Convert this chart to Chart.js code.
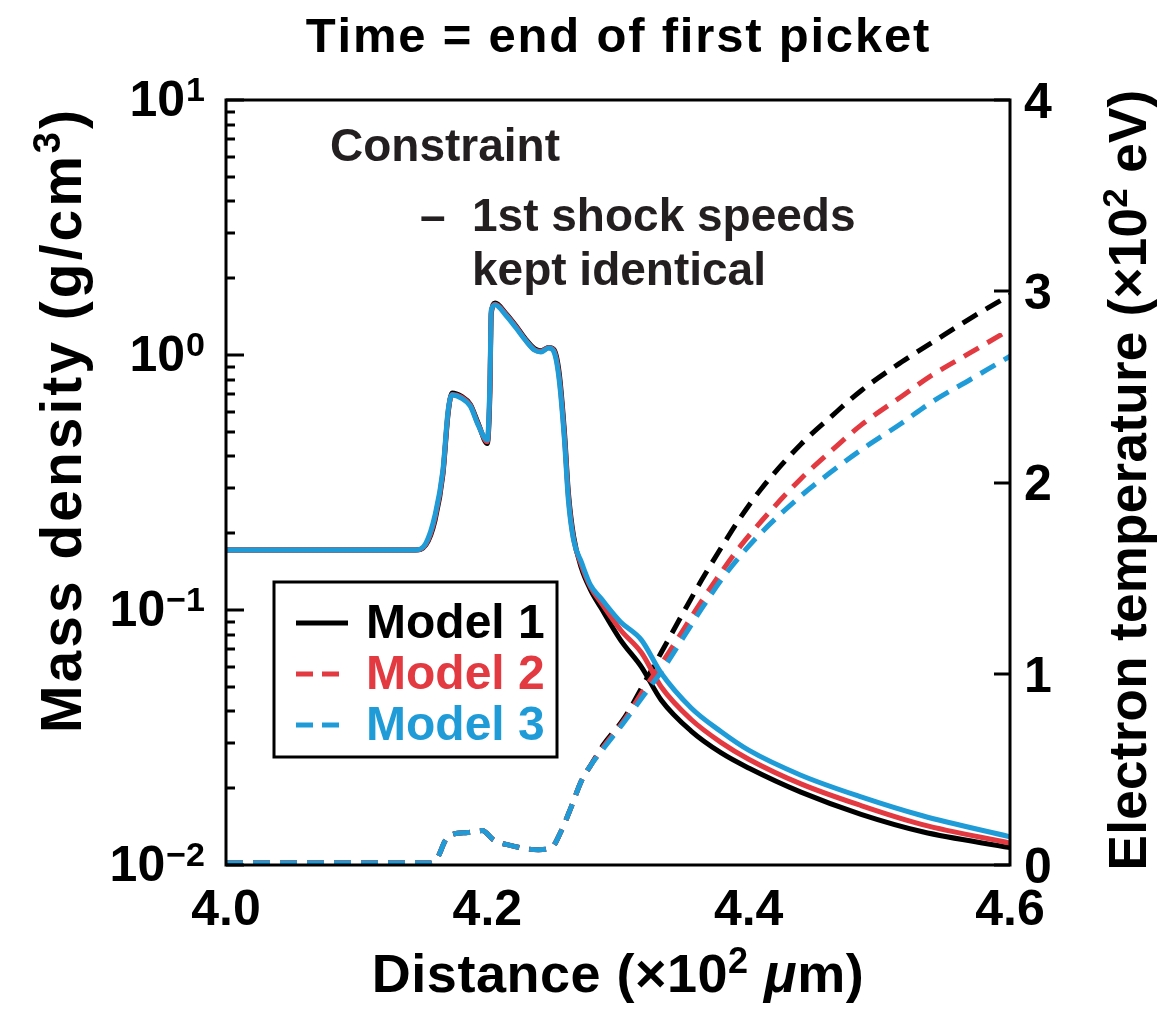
<!DOCTYPE html>
<html>
<head>
<meta charset="utf-8">
<title>Time = end of first picket</title>
<script src="https://cdn.jsdelivr.net/npm/chart.js@4.4.1/dist/chart.umd.min.js"></script>
<style>
  html, body { margin: 0; padding: 0; background: #fff; }
  #wrap { width: 1168px; height: 1010px; position: relative; }
</style>
</head>
<body>
<div id="wrap"><canvas id="chart" width="1168" height="1010"></canvas></div>
<script>
// Distance grid (x10^2 um) for the density curves
const xDens = [4.000, 4.145, 4.153, 4.160, 4.166, 4.170, 4.173, 4.180, 4.187, 4.193, 4.200, 4.202, 4.203, 4.206, 4.214, 4.222, 4.229, 4.236, 4.241, 4.247, 4.251, 4.255, 4.259, 4.262, 4.266, 4.272, 4.279, 4.287, 4.302, 4.318, 4.333, 4.356, 4.379, 4.400, 4.440, 4.486, 4.533, 4.600];
// Mass density (g/cm3)
const densModel1 = [0.172, 0.172, 0.180, 0.225, 0.340, 0.590, 0.710, 0.690, 0.640, 0.540, 0.450, 0.720, 1.45, 1.60, 1.46, 1.30, 1.16, 1.06, 1.04, 1.07, 1.05, 0.850, 0.500, 0.290, 0.195, 0.146, 0.120, 0.102, 0.0762, 0.0597, 0.0444, 0.0335, 0.0275, 0.0240, 0.0193, 0.0158, 0.0135, 0.0117];
const densModel2 = [0.172, 0.172, 0.181, 0.230, 0.347, 0.600, 0.700, 0.685, 0.635, 0.535, 0.457, 0.760, 1.48, 1.58, 1.45, 1.29, 1.15, 1.05, 1.035, 1.068, 1.04, 0.820, 0.480, 0.280, 0.190, 0.150, 0.123, 0.107, 0.0835, 0.0680, 0.0500, 0.0372, 0.0302, 0.0260, 0.0208, 0.0171, 0.0144, 0.0122];
const densModel3 = [0.172, 0.172, 0.183, 0.236, 0.354, 0.608, 0.697, 0.678, 0.630, 0.531, 0.464, 0.800, 1.50, 1.57, 1.435, 1.276, 1.145, 1.046, 1.027, 1.065, 1.027, 0.797, 0.464, 0.270, 0.188, 0.154, 0.125, 0.111, 0.0898, 0.0762, 0.0566, 0.0413, 0.0333, 0.0282, 0.0225, 0.0185, 0.0156, 0.0129];

// Distance grid for the electron temperature curves
const xTemp = [4.000, 4.157, 4.162, 4.168, 4.173, 4.185, 4.196, 4.205, 4.216, 4.239, 4.249, 4.256, 4.264, 4.272, 4.279, 4.289, 4.305, 4.320, 4.333, 4.350, 4.364, 4.380, 4.394, 4.410, 4.440, 4.464, 4.486, 4.517, 4.540, 4.570, 4.600];
// Electron temperature (x10^2 eV)
const tempModel1 = [0.01, 0.01, 0.04, 0.13, 0.16, 0.17, 0.18, 0.13, 0.105, 0.08, 0.09, 0.17, 0.30, 0.44, 0.52, 0.63, 0.77, 0.95, 1.11, 1.32, 1.49, 1.67, 1.82, 1.97, 2.20, 2.35, 2.48, 2.63, 2.73, 2.86, 2.98];
const tempModel2 = [0.01, 0.01, 0.04, 0.13, 0.16, 0.17, 0.18, 0.13, 0.105, 0.08, 0.09, 0.17, 0.30, 0.44, 0.52, 0.62, 0.76, 0.92, 1.05, 1.23, 1.38, 1.54, 1.67, 1.80, 2.02, 2.17, 2.30, 2.45, 2.56, 2.68, 2.80];
const tempModel3 = [0.01, 0.01, 0.04, 0.13, 0.16, 0.17, 0.18, 0.13, 0.105, 0.08, 0.09, 0.17, 0.30, 0.44, 0.52, 0.61, 0.75, 0.89, 1.01, 1.19, 1.34, 1.50, 1.62, 1.74, 1.93, 2.06, 2.17, 2.31, 2.42, 2.54, 2.66];

// Ticks
const xTicks = [4.0, 4.2, 4.4, 4.6];
const xTickLabels = ['4.0', '4.2', '4.4', '4.6'];
const densTicks = [0.01, 0.1, 1, 10];
const densTickExp = ['\u22122', '\u22121', '0', '1'];
const tempTicks = [0, 1, 2, 3, 4];

const modelNames = ['Model 1', 'Model 2', 'Model 3'];
const modelColors = ['#000000', '#e23a40', '#1f9cd8'];

const FONT = '"Liberation Sans", Arial, Helvetica, sans-serif';

function pts(xs, ys) {
    return xs.map((x, i) => ({ x: x, y: ys[i] }));
}

const densSets = [densModel1, densModel2, densModel3];
const tempSets = [tempModel1, tempModel2, tempModel3];
const datasets = [];
densSets.forEach((d, i) => {
    datasets.push({
        label: modelNames[i] + ' density',
        data: pts(xDens, d),
        yAxisID: 'y',
        borderColor: modelColors[i],
        borderWidth: 5,
        pointRadius: 0,
        cubicInterpolationMode: 'monotone',
        order: 2 - i
    });
});
tempSets.forEach((t, i) => {
    datasets.push({
        label: modelNames[i] + ' temperature',
        data: pts(xTemp, t),
        yAxisID: 'y2',
        borderColor: modelColors[i],
        borderWidth: 5,
        borderDash: [17, 10],
        pointRadius: 0,
        cubicInterpolationMode: 'monotone',
        order: 2 - i
    });
});

// Frame, ticks, labels, annotations and legend
const decorations = {
    id: 'decorations',
    afterDatasetsDraw(chart) {
        const ctx = chart.ctx;
        const a = chart.chartArea;
        const xs = chart.scales.x, ys = chart.scales.y, ts = chart.scales.y2;
        ctx.save();

        // plot box
        ctx.strokeStyle = '#000';
        ctx.lineWidth = 3;
        ctx.strokeRect(a.left, a.top, a.right - a.left, a.bottom - a.top);

        // left log ticks (major + minor), inward
        ctx.beginPath();
        for (let e = -2; e <= 0; e++) {
            for (let m = 1; m <= 10; m++) {
                const py = Math.round(ys.getPixelForValue(m * Math.pow(10, e)));
                const len = (m === 1 || m === 10) ? 18 : 9;
                ctx.moveTo(a.left, py);
                ctx.lineTo(a.left + len, py);
            }
        }
        // right ticks
        tempTicks.forEach(t => {
            const py = Math.round(ts.getPixelForValue(t));
            ctx.moveTo(a.right, py);
            ctx.lineTo(a.right - 16, py);
        });
        ctx.stroke();

        ctx.fillStyle = '#000';
        // left tick labels 10^n
        densTicks.forEach((v, i) => {
            const py = ys.getPixelForValue(v);
            ctx.font = 'bold 34px ' + FONT;
            const ew = ctx.measureText(densTickExp[i]).width;
            ctx.font = 'bold 50px ' + FONT;
            const bw = ctx.measureText('10').width;
            const x0 = a.left - 22 - ew - bw;
            ctx.textAlign = 'left';
            ctx.textBaseline = 'middle';
            ctx.fillText('10', x0, py + 2);
            ctx.font = 'bold 34px ' + FONT;
            ctx.textBaseline = 'alphabetic';
            ctx.fillText(densTickExp[i], x0 + bw + 1, py + 1);
        });

        // right tick labels
        ctx.font = 'bold 50px ' + FONT;
        ctx.textAlign = 'left';
        ctx.textBaseline = 'middle';
        tempTicks.forEach(t => {
            ctx.fillText(String(t), a.right + 14, ts.getPixelForValue(t) + 4);
        });

        // x tick labels
        ctx.textAlign = 'center';
        ctx.textBaseline = 'alphabetic';
        xTicks.forEach((v, i) => {
            ctx.fillText(xTickLabels[i], xs.getPixelForValue(v), a.bottom + 60);
        });

        // rich text helper: parts [{t, sup, italic}]
        function rich(parts, size, cx, by, spacing) {
            const supSize = Math.round(size * 0.66);
            const fontOf = p => (p.italic ? 'italic ' : '') + 'bold ' + (p.sup ? supSize : size) + 'px ' + FONT;
            const sp = spacing || 0;
            const widthOf = p => { ctx.font = fontOf(p); return ctx.measureText(p.t).width + sp * p.t.length; };
            let total = 0;
            parts.forEach(p => { total += widthOf(p); });
            let x = cx - total / 2;
            ctx.textAlign = 'left';
            ctx.textBaseline = 'alphabetic';
            parts.forEach(p => {
                ctx.font = fontOf(p);
                const y = p.sup ? by - size * 0.36 : by;
                for (const ch of p.t) {
                    ctx.fillText(ch, x, y);
                    x += ctx.measureText(ch).width + sp;
                }
            });
        }

        // title
        rich([{ t: 'Time = end of first picket' }], 49, (a.left + a.right) / 2, 52, 1.8);

        // x title
        rich([{ t: 'Distance (\u00d710' }, { t: '2', sup: true }, { t: ' ' }, { t: '\u03bc', italic: true }, { t: 'm)' }],
            54, (a.left + a.right) / 2, 992, 0.5);

        // left title
        ctx.save();
        ctx.translate(81, 420);
        ctx.rotate(-Math.PI / 2);
        rich([{ t: 'Mass density (g/cm' }, { t: '3', sup: true }, { t: ')' }], 57, 0, 0, 3);
        ctx.restore();

        // right title
        ctx.save();
        ctx.translate(1146, 480);
        ctx.rotate(-Math.PI / 2);
        rich([{ t: 'Electron temperature (\u00d710' }, { t: '2', sup: true }, { t: ' eV)' }], 53, 0, 0, 0.3);
        ctx.restore();

        // annotation
        ctx.fillStyle = '#231f20';
        ctx.font = 'bold 46px ' + FONT;
        ctx.textAlign = 'left';
        ctx.textBaseline = 'middle';
        ctx.fillText('Constraint', 330, 148);
        ctx.fillText('\u2013', 420, 218);
        ctx.fillText('1st shock speeds', 472, 218);
        ctx.fillText('kept identical', 472, 272);

        // legend
        ctx.strokeStyle = '#000';
        ctx.lineWidth = 3;
        ctx.fillStyle = '#fff';
        ctx.fillRect(274, 582, 283, 175);
        ctx.strokeRect(274, 582, 283, 175);
        const rows = [623, 674, 725];
        rows.forEach((ry, i) => {
            ctx.strokeStyle = modelColors[i];
            ctx.lineWidth = 5;
            ctx.setLineDash(i === 0 ? [] : [17, 9]);
            ctx.beginPath();
            ctx.moveTo(296, ry);
            ctx.lineTo(348, ry);
            ctx.stroke();
            ctx.setLineDash([]);
            ctx.fillStyle = modelColors[i];
            ctx.font = 'bold 48px ' + FONT;
            ctx.textBaseline = 'middle';
            ctx.fillText(modelNames[i], 366, ry + 2);
        });

        ctx.restore();
    }
};

new Chart(document.getElementById('chart').getContext('2d'), {
    type: 'line',
    data: { datasets: datasets },
    options: {
        responsive: false,
        animation: false,
        layout: { padding: { left: 226, right: 158, top: 100, bottom: 145 } },
        plugins: {
            legend: { display: false },
            tooltip: { enabled: false }
        },
        scales: {
            x: { type: 'linear', min: 4.0, max: 4.6, display: false },
            y: { type: 'logarithmic', position: 'left', min: 0.01, max: 10, display: false },
            y2: { type: 'linear', position: 'right', min: 0, max: 4, display: false }
        }
    },
    plugins: [decorations]
});
</script>
</body>
</html>
